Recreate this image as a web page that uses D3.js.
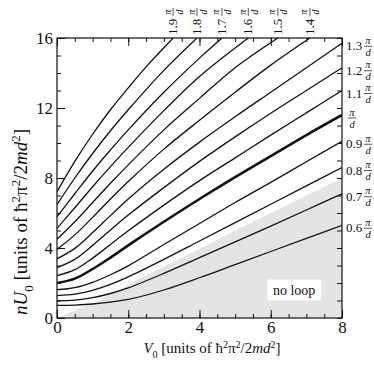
<!DOCTYPE html>
<html>
<head>
<meta charset="utf-8">
<script src="https://cdn.jsdelivr.net/npm/d3@7"></script>
<style>
  body { margin: 0; background: #fff; }
  text { font-family: "Liberation Serif", "Times New Roman", serif; fill: #111; }
</style>
</head>
<body>
<svg></svg>
<script>
// curves labelled by k (in units of pi/d); points are [V0, nU0]
var kLabels = ["0.6", "0.7", "0.8", "0.9", "1", "1.1", "1.2", "1.3", "1.4", "1.5", "1.6", "1.7", "1.8", "1.9"];

var c06 = [[0,0.72],[0.5,0.74],[1,0.8],[1.5,0.91],[2,1.06],[3,1.6],[4,2.3],[5,3.05],[6,3.8],[7,4.55],[8,5.3]];
var c07 = [[0,0.98],[0.5,1.02],[1,1.16],[1.5,1.4],[2,1.72],[3,2.55],[4,3.45],[5,4.35],[6,5.25],[7,6.17],[8,7.1]];
var c08 = [[0,1.28],[0.5,1.36],[1,1.58],[1.5,1.92],[2,2.35],[3,3.35],[4,4.4],[5,5.45],[6,6.5],[7,7.55],[8,8.6]];
var c09 = [[0,1.62],[0.5,1.74],[1,2.04],[1.5,2.47],[2,2.98],[3,4.2],[4,5.4],[5,6.6],[6,7.75],[7,8.93],[8,10.1]];
var c10 = [[0,2.0],[0.5,2.25],[1,2.8],[1.5,3.45],[2,4.15],[3,5.5],[4,6.8],[5,8.05],[6,9.25],[7,10.45],[8,11.6]];
var c11 = [[0,2.42],[0.5,2.76],[1,3.42],[1.5,4.2],[2,4.98],[3,6.45],[4,7.85],[5,9.15],[6,10.45],[7,11.72],[8,13.0]];
var c12 = [[0,2.88],[0.5,3.35],[1,4.15],[1.5,5.03],[2,5.88],[3,7.45],[4,8.95],[5,10.35],[6,11.7],[7,13.0],[8,14.3]];
var c13 = [[0,3.38],[0.5,3.98],[1,4.88],[1.5,5.85],[2,6.8],[3,8.5],[4,10.05],[5,11.5],[6,12.9],[7,14.3],[8,15.7]];
var c14 = [[0,3.92],[0.5,4.75],[1,5.75],[1.5,6.8],[2,7.8],[3,9.65],[4,11.3],[5,12.9],[6,14.45],[7.1,16]];
var c15 = [[0,4.5],[0.5,5.5],[1,6.6],[1.5,7.7],[2,8.75],[3,10.75],[4,12.55],[5,14.3],[6.2,16]];
var c16 = [[0,5.12],[0.5,6.3],[1,7.5],[1.5,8.65],[2,9.75],[3,11.85],[4,13.8],[5.37,16]];
var c17 = [[0,5.78],[0.5,7.1],[1,8.4],[1.5,9.6],[2,10.75],[3,12.9],[4,14.85],[4.63,16]];
var c18 = [[0,6.48],[0.5,8.0],[1,9.4],[1.5,10.7],[2,11.9],[3,14.15],[3.93,16]];
var c19 = [[0,7.22],[0.5,8.95],[1,10.5],[1.5,11.9],[2,13.15],[2.5,14.35],[3.26,16]];
var curves = [c06, c07, c08, c09, c10, c11, c12, c13, c14, c15, c16, c17, c18, c19];

// upper edge of the grey "no loop" region
var noLoopEdge = [[0,0],[1,0.85],[2,1.9],[3,2.95],[4,3.95],[5,5.0],[6,6.0],[7,7.0],[8,8.0]];

var xMajor = [0, 2, 4, 6, 8];
var xMinor = d3.range(0, 8.01, 0.5);
var yMajor = [0, 4, 8, 12, 16];
var yMinor = d3.range(0, 16.01, 1);

var width = 374, height = 365;
var svg = d3.select("svg").attr("width", width).attr("height", height);

var x = d3.scaleLinear().domain([0, 8]).range([57, 342]);
var y = d3.scaleLinear().domain([0, 16]).range([318, 38]);

svg.append("clipPath").attr("id", "plot")
  .append("rect")
  .attr("x", x(0)).attr("y", y(16))
  .attr("width", x(8) - x(0)).attr("height", y(0) - y(16));

var plot = svg.append("g").attr("clip-path", "url(#plot)");

// grey region
var area = d3.area()
  .x(function(d) { return x(d[0]); })
  .y0(y(0))
  .y1(function(d) { return y(d[1]); });
plot.append("path").datum(noLoopEdge)
  .attr("d", area)
  .attr("fill", "#e4e4e4");

var line = d3.line()
  .x(function(d) { return x(d[0]); })
  .y(function(d) { return y(d[1]); })
  .curve(d3.curveCatmullRom.alpha(0.5));

plot.selectAll(".curve")
  .data(curves)
  .enter()
  .append("path")
  .attr("class", "curve")
  .attr("d", line)
  .attr("fill", "none")
  .attr("stroke", "#111")
  .attr("stroke-width", function(d, i) { return kLabels[i] === "1" ? 2.6 : 1.3; });

// "no loop" label on white box
svg.append("rect")
  .attr("x", x(5.9)).attr("y", y(2.2))
  .attr("width", 54).attr("height", 21)
  .attr("fill", "#fff");
svg.append("text")
  .attr("x", x(5.9) + 27).attr("y", y(2.2) + 15)
  .attr("text-anchor", "middle")
  .style("font-size", "14px")
  .text("no loop");

// axes, ticks pointing inward
function styleAxis(g) {
  g.select(".domain").remove();
  g.selectAll("line").attr("stroke", "#111");
  g.selectAll("text").style("font-size", "17px").attr("fill", "#111");
}

svg.append("g").attr("transform", "translate(0," + y(0) + ")")
  .call(d3.axisBottom(x).tickValues(xMinor).tickSize(-4).tickFormat(""))
  .call(styleAxis);
svg.append("g").attr("transform", "translate(0," + y(0) + ")")
  .call(d3.axisBottom(x).tickValues(xMajor).tickSize(-8).tickPadding(3).tickFormat(d3.format("d")))
  .call(styleAxis);
svg.append("g").attr("transform", "translate(0," + y(16) + ")")
  .call(d3.axisTop(x).tickValues(xMinor).tickSize(-4).tickFormat(""))
  .call(styleAxis);
svg.append("g").attr("transform", "translate(0," + y(16) + ")")
  .call(d3.axisTop(x).tickValues(xMajor).tickSize(-8).tickFormat(""))
  .call(styleAxis);
svg.append("g").attr("transform", "translate(" + x(0) + ",0)")
  .call(d3.axisLeft(y).tickValues(yMinor).tickSize(-4).tickFormat(""))
  .call(styleAxis);
svg.append("g").attr("transform", "translate(" + x(0) + ",0)")
  .call(d3.axisLeft(y).tickValues(yMajor).tickSize(-8).tickPadding(4).tickFormat(d3.format("d")))
  .call(styleAxis);
svg.append("g").attr("transform", "translate(" + x(8) + ",0)")
  .call(d3.axisRight(y).tickValues(yMinor).tickSize(-5).tickFormat(""))
  .call(styleAxis);

svg.append("rect")
  .attr("x", x(0)).attr("y", y(16))
  .attr("width", x(8) - x(0)).attr("height", y(0) - y(16))
  .attr("fill", "none").attr("stroke", "#111").attr("stroke-width", 1.2);

// pi/d fraction, (fx, fy) = centre of the bar
function fraction(g, fx, fy) {
  g.append("text").attr("x", fx).attr("y", fy - 2.5)
    .attr("text-anchor", "middle").style("font-size", "10.5px").style("font-style", "italic")
    .text("\u03c0");
  g.append("line").attr("x1", fx - 4).attr("x2", fx + 4).attr("y1", fy).attr("y2", fy)
    .attr("stroke", "#111").attr("stroke-width", 0.7);
  g.append("text").attr("x", fx).attr("y", fy + 9.5)
    .attr("text-anchor", "middle").style("font-size", "10.5px").style("font-style", "italic")
    .text("d");
}

// curve labels where each curve leaves the frame
curves.forEach(function(c, i) {
  var last = c[c.length - 1];
  var lab = kLabels[i];
  if (last[1] < 16) {
    var g = svg.append("g").attr("transform", "translate(" + (x(8) + 4) + "," + (y(last[1]) + 3) + ")");
    if (lab === "1") {
      fraction(g, 6, 0);
    } else {
      g.append("text").attr("x", 0).attr("y", 4).style("font-size", "13px").text(lab);
      fraction(g, 22, 0);
    }
  } else {
    var t = svg.append("g")
      .attr("transform", "translate(" + x(last[0]) + "," + (y(16) - 3) + ") rotate(-90)");
    t.append("text").attr("x", 0).attr("y", 4).style("font-size", "13px").text(lab);
    fraction(t, 23, 0);
  }
});

// axis titles
var xt = svg.append("text")
  .attr("x", 212).attr("y", 353)
  .attr("text-anchor", "middle")
  .style("font-size", "15px");
xt.append("tspan").style("font-style", "italic").text("V");
xt.append("tspan").attr("dy", 5).style("font-size", "10px").text("0");
xt.append("tspan").attr("dy", -5).text("  [units of \u0127");
xt.append("tspan").attr("dy", -5).style("font-size", "10px").text("2");
xt.append("tspan").attr("dy", 5).text("\u03c0");
xt.append("tspan").attr("dy", -5).style("font-size", "10px").text("2");
xt.append("tspan").attr("dy", 5).text("/2");
xt.append("tspan").style("font-style", "italic").text("md");
xt.append("tspan").attr("dy", -5).style("font-size", "10px").text("2");
xt.append("tspan").attr("dy", 5).text("]");

var yt = svg.append("text")
  .attr("transform", "translate(27,222) rotate(-90)")
  .attr("text-anchor", "middle")
  .style("font-size", "19px");
yt.append("tspan").style("font-style", "italic").text("nU");
yt.append("tspan").attr("dy", 6).style("font-size", "13px").text("0");
yt.append("tspan").attr("dy", -6).text("  [units of \u0127");
yt.append("tspan").attr("dy", -7).style("font-size", "13px").text("2");
yt.append("tspan").attr("dy", 7).text("\u03c0");
yt.append("tspan").attr("dy", -7).style("font-size", "13px").text("2");
yt.append("tspan").attr("dy", 7).text("/2");
yt.append("tspan").style("font-style", "italic").text("md");
yt.append("tspan").attr("dy", -7).style("font-size", "13px").text("2");
yt.append("tspan").attr("dy", 7).text("]");
</script>
</body>
</html>
